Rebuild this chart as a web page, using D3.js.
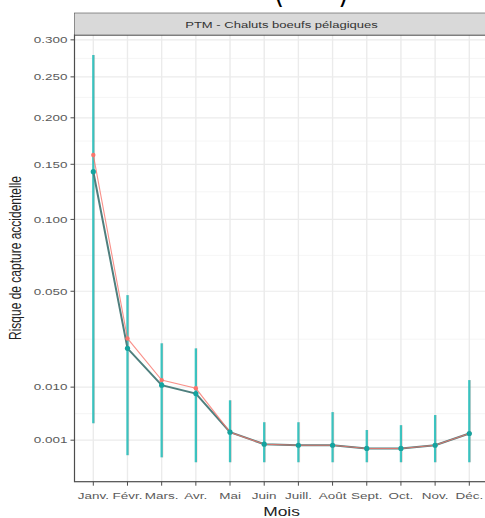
<!DOCTYPE html>
<meta charset="utf-8">
<style>
    body { margin: 0; background: #fff; }
    text { font-family: "Liberation Sans", Arial, sans-serif; }
</style>
<body>
<script src="https://cdn.jsdelivr.net/npm/d3@7"></script>
<script>
    // months on the x axis
    var months = ["Janv.", "Févr.", "Mars.", "Avr.", "Mai", "Juin", "Juill.", "Août", "Sept.", "Oct.", "Nov.", "Déc."];

    // estimated risk, two series (red / teal)
    var redMean  = [0.1595, 0.0265, 0.0119, 0.0097, 0.00176, 0.00070, 0.00063, 0.00063, 0.00044, 0.00044, 0.00063, 0.00162];
    var tealMean = [0.1427, 0.0225, 0.0105, 0.0084, 0.00176, 0.00070, 0.00063, 0.00063, 0.00044, 0.00044, 0.00063, 0.00162];
    // intervals
    var tealLow  = [0.00287, 0.00015, 0.00009, 0.00001, 0.00001, 0.00001, 0.00001, 0.00001, 0.00001, 0.00001, 0.00001, 0.00001];
    var tealHigh = [0.279, 0.0478, 0.0245, 0.0225, 0.0069, 0.0030, 0.0030, 0.0046, 0.0020, 0.0026, 0.0041, 0.0119];

    var yTicks = [0.001, 0.01, 0.05, 0.1, 0.15, 0.2, 0.25, 0.3];
    var yTickLabels = ["0.001", "0.010", "0.050", "0.100", "0.150", "0.200", "0.250", "0.300"];

    var width = 485, height = 518;
    var sx = 1.45; // the picture is stretched sideways

    var panel = {left: 74.5, right: 489, top: 35, bottom: 481.7};

    var svg = d3.select("body").append("svg")
        .attr("width", width)
        .attr("height", height);

    var x = d3.scalePoint()
        .domain(months)
        .range([93.3, 469.3]);

    var y = d3.scaleSqrt()
        .domain([-0.00048, 0.3069])
        .range([panel.bottom, panel.top]);

    // title, cut off at the top edge in the reference: only the ends of the brackets show
    svg.append("text")
        .attr("transform", "translate(349,-3) scale(" + sx + ",2.6)")
        .attr("text-anchor", "end")
        .style("font-size", "18px")
        .text("Mois (2019)");

    // panel background
    svg.append("rect")
        .attr("x", panel.left).attr("y", panel.top)
        .attr("width", panel.right - panel.left)
        .attr("height", panel.bottom - panel.top)
        .attr("fill", "#fff");

    // minor grid
    var minor = [];
    for (var i = 0; i < yTicks.length - 1; i++) {
        var m = (Math.sqrt(yTicks[i]) + Math.sqrt(yTicks[i + 1])) / 2;
        minor.push(m * m);
    }
    svg.selectAll(".minor")
        .data(minor)
        .enter().append("line")
        .attr("x1", panel.left).attr("x2", panel.right)
        .attr("y1", function (d) { return y(d); })
        .attr("y2", function (d) { return y(d); })
        .attr("stroke", "#f2f2f2")
        .attr("stroke-width", 0.8);

    // major grid
    svg.selectAll(".hgrid")
        .data(yTicks)
        .enter().append("line")
        .attr("x1", panel.left).attr("x2", panel.right)
        .attr("y1", function (d) { return y(d); })
        .attr("y2", function (d) { return y(d); })
        .attr("stroke", "#ebebeb")
        .attr("stroke-width", 1.2);

    svg.selectAll(".vgrid")
        .data(months)
        .enter().append("line")
        .attr("y1", panel.top).attr("y2", panel.bottom)
        .attr("x1", function (d) { return x(d); })
        .attr("x2", function (d) { return x(d); })
        .attr("stroke", "#ebebeb")
        .attr("stroke-width", 1.4);

    // error bars: red behind, teal on top
    svg.selectAll(".ebr")
        .data(months)
        .enter().append("line")
        .attr("x1", function (d) { return x(d) + 1; })
        .attr("x2", function (d) { return x(d) + 1; })
        .attr("y1", function (d, i) { return y(tealLow[i]); })
        .attr("y2", function (d, i) { return y(tealHigh[i]); })
        .attr("stroke", "#F8766D")
        .attr("stroke-opacity", 0.3)
        .attr("stroke-width", 1.5);

    svg.selectAll(".ebt")
        .data(months)
        .enter().append("line")
        .attr("x1", function (d) { return x(d); })
        .attr("x2", function (d) { return x(d); })
        .attr("y1", function (d, i) { return y(tealLow[i]); })
        .attr("y2", function (d, i) { return y(tealHigh[i]); })
        .attr("stroke", "#1cbcb9")
        .attr("stroke-opacity", 0.85)
        .attr("stroke-width", 2.3);

    // lines
    var line = function (vals) {
        return d3.line()
            .x(function (d, i) { return x(months[i]); })
            .y(function (d) { return y(d); })(vals);
    };

    svg.append("path")
        .attr("d", line(tealMean))
        .attr("fill", "none")
        .attr("stroke", "#4f7f7e")
        .attr("stroke-width", 2);

    svg.append("path")
        .attr("d", line(redMean))
        .attr("fill", "none")
        .attr("stroke", "#F8766D")
        .attr("stroke-opacity", 0.8)
        .attr("stroke-width", 1.1);

    // points
    svg.selectAll(".pr")
        .data(redMean)
        .enter().append("circle")
        .attr("cx", function (d, i) { return x(months[i]); })
        .attr("cy", function (d) { return y(d); })
        .attr("r", 2.2)
        .attr("fill", "#F8766D");

    svg.selectAll(".pt")
        .data(tealMean)
        .enter().append("circle")
        .attr("cx", function (d, i) { return x(months[i]); })
        .attr("cy", function (d) { return y(d); })
        .attr("r", 2.6)
        .attr("fill", "#14a39f");

    // panel border (left and bottom visible, right is cut off)
    svg.append("rect")
        .attr("x", panel.left).attr("y", panel.top)
        .attr("width", panel.right - panel.left)
        .attr("height", panel.bottom - panel.top)
        .attr("fill", "none")
        .attr("stroke", "#4d4d4d")
        .attr("stroke-width", 1.2);

    // strip
    svg.append("rect")
        .attr("x", panel.left).attr("y", 13)
        .attr("width", panel.right - panel.left)
        .attr("height", panel.top - 13)
        .attr("fill", "#d9d9d9")
        .attr("stroke", "#4d4d4d")
        .attr("stroke-width", 0.6);

    svg.append("text")
        .attr("transform", "translate(281.5,28) scale(" + sx + ",1)")
        .attr("text-anchor", "middle")
        .style("font-size", "9px")
        .attr("fill", "#333")
        .text("PTM - Chaluts boeufs pélagiques");

    // y axis ticks and labels
    var yAxis = svg.append("g");
    yAxis.selectAll("line")
        .data(yTicks)
        .enter().append("line")
        .attr("x1", panel.left - 4).attr("x2", panel.left)
        .attr("y1", function (d) { return y(d); })
        .attr("y2", function (d) { return y(d); })
        .attr("stroke", "#4d4d4d")
        .attr("stroke-width", 1);
    yAxis.selectAll("text")
        .data(yTicks)
        .enter().append("text")
        .attr("transform", function (d) {
            return "translate(" + (panel.left - 7) + "," + (y(d) + 3.3) + ") scale(" + sx + ",1)";
        })
        .attr("text-anchor", "end")
        .style("font-size", "9.3px")
        .attr("fill", "#5a5a5a")
        .text(function (d, i) { return yTickLabels[i]; });

    // x axis ticks and labels
    var xAxis = svg.append("g");
    xAxis.selectAll("line")
        .data(months)
        .enter().append("line")
        .attr("y1", panel.bottom).attr("y2", panel.bottom + 4)
        .attr("x1", function (d) { return x(d); })
        .attr("x2", function (d) { return x(d); })
        .attr("stroke", "#4d4d4d")
        .attr("stroke-width", 1);
    xAxis.selectAll("text")
        .data(months)
        .enter().append("text")
        .attr("transform", function (d) {
            return "translate(" + x(d) + ",499) scale(" + sx + ",1)";
        })
        .attr("text-anchor", "middle")
        .style("font-size", "9.3px")
        .attr("fill", "#5a5a5a")
        .text(function (d) { return d; });

    // axis titles
    svg.append("text")
        .attr("transform", "translate(281.5,515.5) scale(" + sx + ",1)")
        .attr("text-anchor", "middle")
        .style("font-size", "12px")
        .attr("fill", "#222")
        .text("Mois");

    svg.append("text")
        .attr("transform", "translate(21,258) scale(" + sx + ",1) rotate(-90)")
        .attr("text-anchor", "middle")
        .style("font-size", "12px")
        .attr("fill", "#222")
        .text("Risque de capture accidentelle");
</script>
</body>
